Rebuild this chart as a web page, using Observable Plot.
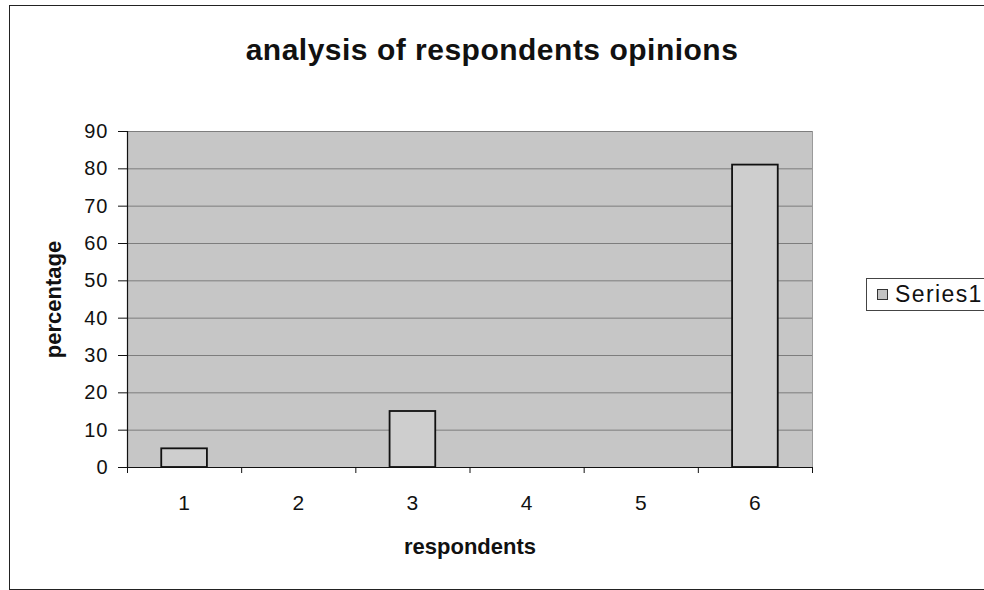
<!DOCTYPE html>
<html>
<head>
<meta charset="utf-8">
<script src="https://cdn.jsdelivr.net/npm/d3@7"></script>
<script src="https://cdn.jsdelivr.net/npm/@observablehq/plot@0.6"></script>
<style>
  html, body { margin: 0; padding: 0; background: #fff; overflow: hidden; }
  #wrap { position: relative; width: 984px; height: 590px; overflow: hidden; font-family: "Liberation Sans", Arial, sans-serif; }
  #frame { position: absolute; left: 9px; top: 5px; width: 990px; height: 585px; border: 1.5px solid #222; box-sizing: border-box; }
  #title { position: absolute; left: 0; width: 984px; top: 35px; line-height: 30px; text-align: center; font-size: 30px; letter-spacing: 0.5px; font-weight: bold; color: #111; }
  #legend { position: absolute; left: 866px; top: 278px; width: 150px; height: 33px; border: 1px solid #444; box-sizing: border-box; background: #fff; }
  #legend .sw { position: absolute; left: 10px; top: 10px; width: 11px; height: 11px; border: 1px solid #333; background: #c4c4c4; box-sizing: border-box; }
  #legend .lb { position: absolute; left: 28px; top: 2px; font-size: 23px; letter-spacing: 1.4px; color: #111; }
  #chart { position: absolute; left: 0; top: 0; }
  #chart g[aria-label="y-axis tick label"] text { letter-spacing: 1px; }
  #chart g[aria-label="x-axis tick label"] text { letter-spacing: 1px; }
  #chart g[aria-label="xlabel"] text { letter-spacing: 1.5px; }
  #chart g[aria-label="ylabel"] text { letter-spacing: 2px; }
</style>
</head>
<body>
<div id="wrap">
  <div id="chart"></div>
  <div id="frame"></div>
  <div id="title"></div>
  <div id="legend"><div class="sw"></div><div class="lb"></div></div>
</div>
<script>
const titleText = "analysis of respondents opinions";
const xLabel = "respondents";
const yLabel = "percentage";
const seriesName = "Series1";
const categories = [1, 2, 3, 4, 5, 6];
const values = [5, 0, 15, 0, 0, 81];
const yTicks = [0, 10, 20, 30, 40, 50, 60, 70, 80, 90];
const barHalfWidth = 0.2;

const data = categories.map((c, i) => ({cat: c, value: values[i]})).filter(d => d.value > 0);
const boundaries = d3.range(categories.length + 1).map(i => categories[0] - 0.5 + i);

document.getElementById("title").textContent = titleText;
document.querySelector("#legend .lb").textContent = seriesName;

const plot = Plot.plot({
  width: 984,
  height: 590,
  marginLeft: 127,
  marginRight: 172,
  marginTop: 131,
  marginBottom: 123,
  style: {fontFamily: "Liberation Sans, Arial, sans-serif", background: "transparent", color: "#111"},
  x: {type: "linear", domain: [categories[0] - 0.5, categories[categories.length - 1] + 0.5]},
  y: {domain: [0, 90]},
  marks: [
    Plot.frame({fill: "#c6c6c6", stroke: "#9a9a9a"}),
    Plot.gridY(yTicks, {stroke: "#7d7d7d", strokeOpacity: 1, strokeWidth: 1}),
    Plot.rectY(data, {x1: d => d.cat - barHalfWidth, x2: d => d.cat + barHalfWidth, y1: 0, y2: "value", fill: "#cecece", stroke: "#111", strokeWidth: 1.8}),
    Plot.ruleY([0], {stroke: "#111", strokeWidth: 1.2}),
    Plot.ruleX([categories[0] - 0.5], {stroke: "#111", strokeWidth: 1.2}),
    Plot.axisY(yTicks, {tickSize: 9, tickPadding: 10, fontSize: 20, label: null, stroke: "#111"}),
    Plot.axisX(boundaries, {tickSize: 6, tickFormat: () => "", label: null, stroke: "#111"}),
    Plot.axisX(categories, {tickSize: 0, tickPadding: 28, fontSize: 21, tickFormat: d3.format("d"), label: null}),
    Plot.text([xLabel], {ariaLabel: "xlabel", frameAnchor: "bottom", textAnchor: "middle", dy: 86, fontSize: 22, fontWeight: "bold", text: d => d}),
    Plot.text([yLabel], {ariaLabel: "ylabel", frameAnchor: "left", textAnchor: "middle", dx: -74, rotate: -90, fontSize: 22, fontWeight: "bold", text: d => d})
  ]
});
document.getElementById("chart").appendChild(plot);
</script>
</body>
</html>
